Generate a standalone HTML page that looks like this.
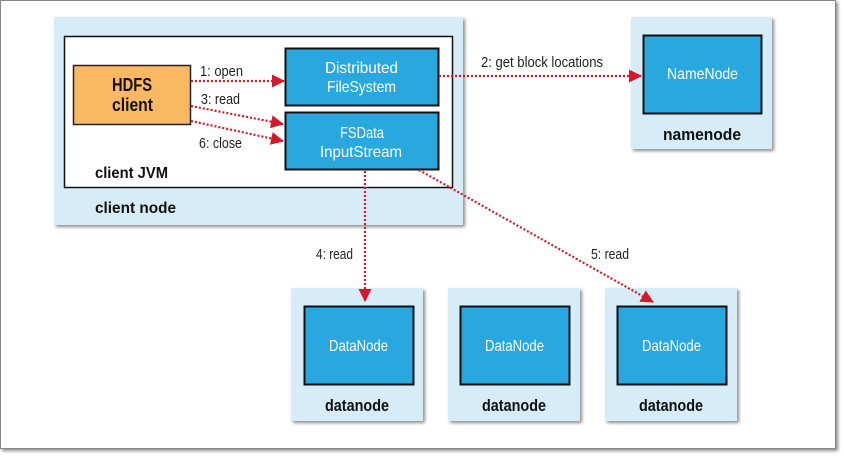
<!DOCTYPE html>
<html><head><meta charset="utf-8"><style>
html,body{margin:0;padding:0;background:#fff;}
body{width:844px;height:459px;position:relative;overflow:hidden;font-family:"Liberation Sans",sans-serif;}
</style></head><body>
<svg width="844" height="459" viewBox="0 0 844 459" xmlns="http://www.w3.org/2000/svg" font-family="Liberation Sans, sans-serif">
<defs>
<filter id="sh" x="-10%" y="-10%" width="130%" height="130%"><feDropShadow dx="2" dy="2" stdDeviation="1.5" flood-color="#000" flood-opacity="0.45"/></filter>
<marker id="ah" markerWidth="13" markerHeight="13" refX="12" refY="6.5" orient="auto" markerUnits="userSpaceOnUse"><path d="M0,0 L13,6.5 L0,13 z" fill="#d7182a"/></marker>
</defs>
<rect x="0.5" y="0.5" width="835" height="448" fill="#fff" stroke="#888" filter="url(#sh)"/>
<rect x="54" y="17" width="409" height="208" fill="#d6ecf7" filter="url(#sh)"/>
<rect x="64.5" y="36.5" width="388" height="151" fill="#fff" stroke="#111" stroke-width="1.5"/>
<rect x="73.5" y="65.5" width="117" height="59" fill="#fbb862" stroke="#222" stroke-width="1.5"/>
<text x="112" y="91" font-size="18" font-weight="bold" fill="#111" textLength="40" lengthAdjust="spacingAndGlyphs">HDFS</text>
<text x="112" y="111" font-size="18" font-weight="bold" fill="#111" textLength="41" lengthAdjust="spacingAndGlyphs">client</text>
<rect x="285.5" y="48.5" width="153" height="57" fill="#29a8e0" stroke="#111" stroke-width="2"/>
<text x="325" y="73" font-size="16" fill="#fff" textLength="73" lengthAdjust="spacingAndGlyphs">Distributed</text>
<text x="327" y="92" font-size="16" fill="#fff" textLength="69" lengthAdjust="spacingAndGlyphs">FileSystem</text>
<rect x="285.5" y="112.5" width="153" height="57" fill="#29a8e0" stroke="#111" stroke-width="2"/>
<text x="340" y="138" font-size="16" fill="#fff" textLength="44" lengthAdjust="spacingAndGlyphs">FSData</text>
<text x="320" y="157" font-size="16" fill="#fff" textLength="82" lengthAdjust="spacingAndGlyphs">InputStream</text>
<text x="95" y="178" font-size="16" font-weight="bold" fill="#111" textLength="73" lengthAdjust="spacingAndGlyphs">client JVM</text>
<text x="95" y="213" font-size="16" font-weight="bold" fill="#111" textLength="81" lengthAdjust="spacingAndGlyphs">client node</text>
<rect x="631" y="17" width="141" height="132" fill="#d6ecf7" filter="url(#sh)"/>
<rect x="643.5" y="35.5" width="118" height="78" fill="#29a8e0" stroke="#111" stroke-width="2"/>
<text x="667" y="79" font-size="16" fill="#fff" textLength="71" lengthAdjust="spacingAndGlyphs">NameNode</text>
<text x="663" y="140" font-size="17" font-weight="bold" fill="#111" textLength="78" lengthAdjust="spacingAndGlyphs">namenode</text>
<rect x="291" y="288" width="132" height="133" fill="#d6ecf7" filter="url(#sh)"/>
<rect x="304.5" y="306.5" width="109" height="78" fill="#29a8e0" stroke="#111" stroke-width="2"/>
<text x="329" y="351" font-size="16" fill="#fff" textLength="59" lengthAdjust="spacingAndGlyphs">DataNode</text>
<text x="325" y="411" font-size="17" font-weight="bold" fill="#111" textLength="64" lengthAdjust="spacingAndGlyphs">datanode</text>
<rect x="448" y="288" width="132" height="133" fill="#d6ecf7" filter="url(#sh)"/>
<rect x="460.5" y="306.5" width="109" height="78" fill="#29a8e0" stroke="#111" stroke-width="2"/>
<text x="485" y="351" font-size="16" fill="#fff" textLength="59" lengthAdjust="spacingAndGlyphs">DataNode</text>
<text x="482" y="411" font-size="17" font-weight="bold" fill="#111" textLength="64" lengthAdjust="spacingAndGlyphs">datanode</text>
<rect x="605" y="288" width="132" height="133" fill="#d6ecf7" filter="url(#sh)"/>
<rect x="617.5" y="306.5" width="109" height="78" fill="#29a8e0" stroke="#111" stroke-width="2"/>
<text x="642" y="351" font-size="16" fill="#fff" textLength="59" lengthAdjust="spacingAndGlyphs">DataNode</text>
<text x="639" y="411" font-size="17" font-weight="bold" fill="#111" textLength="64" lengthAdjust="spacingAndGlyphs">datanode</text>
<g stroke="#d7182a" stroke-width="2.2" stroke-dasharray="2,2" fill="none" marker-end="url(#ah)">
<line x1="191" y1="81" x2="284" y2="81"/>
<line x1="191" y1="106" x2="283" y2="124"/>
<line x1="191" y1="121" x2="283" y2="141"/>
<line x1="439" y1="76" x2="641" y2="76"/>
<line x1="365" y1="171" x2="365" y2="301"/>
<line x1="419" y1="170" x2="653" y2="302"/>
</g>
<g font-size="15" fill="#222">
<text x="200" y="76" textLength="43" lengthAdjust="spacingAndGlyphs">1: open</text>
<text x="201" y="104" textLength="39" lengthAdjust="spacingAndGlyphs">3: read</text>
<text x="199" y="148" textLength="43" lengthAdjust="spacingAndGlyphs">6: close</text>
<text x="481" y="67" textLength="122" lengthAdjust="spacingAndGlyphs">2: get block locations</text>
<text x="316" y="259" textLength="37" lengthAdjust="spacingAndGlyphs">4: read</text>
<text x="591" y="259" textLength="38" lengthAdjust="spacingAndGlyphs">5: read</text>
</g>
</svg>
</body></html>
